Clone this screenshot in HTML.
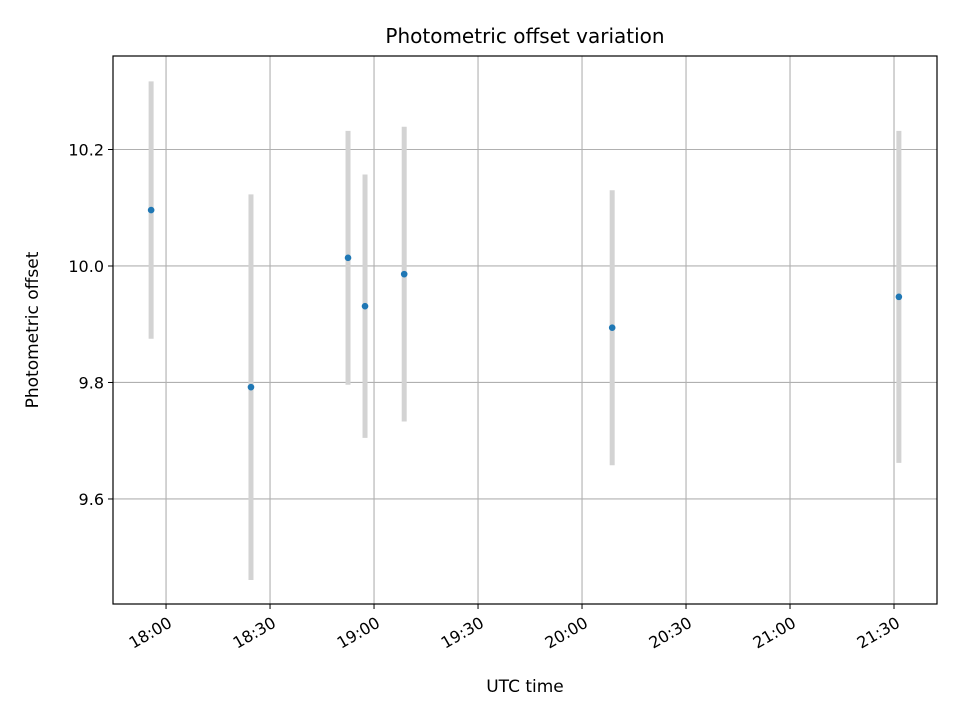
<!DOCTYPE html>
<html><head><meta charset="utf-8"><style>
body{margin:0;background:#fff;}
svg{font-family:"DejaVu Sans","Liberation Sans",sans-serif;}
</style></head><body>
<svg id="chart" width="960" height="720" viewBox="0 0 960 720" xmlns="http://www.w3.org/2000/svg">
<rect width="960" height="720" fill="#fff"/>
<g id="grid"></g>
<g id="errs"></g>
<g id="pts"></g>
<rect x="113" y="56" width="824" height="548" fill="none" stroke="#000" stroke-width="1.2"/>
<g id="xt"></g>
<g id="yt"></g>
<text x="525" y="43" text-anchor="middle" font-size="20">Photometric offset variation</text>
<text x="525" y="692" text-anchor="middle" font-size="17">UTC time</text>
<text transform="translate(38,330) rotate(-90)" text-anchor="middle" font-size="17">Photometric offset</text>
</svg>
<script>
// minutes since 18:00 UTC
const times = [-4.3, 24.5, 52.5, 57.4, 68.7, 128.7, 211.4];
const offsets = [10.096, 9.792, 10.014, 9.931, 9.986, 9.894, 9.947];
const errors = [0.221, 0.331, 0.218, 0.226, 0.253, 0.236, 0.285];
const xTickMinutes = [0, 30, 60, 90, 120, 150, 180, 210];
const xTickLabels = ["18:00","18:30","19:00","19:30","20:00","20:30","21:00","21:30"];
const yTicks = [9.6, 9.8, 10.0, 10.2];
const yTickLabels = ["9.6","9.8","10.0","10.2"];

const L=113,R=937,T=56,B=604;
const xMin=-15.3,xMax=222.4,yMin=9.4197,yMax=10.3605;
const xs=v=>L+(v-xMin)/(xMax-xMin)*(R-L);
const ys=v=>B-(v-yMin)/(yMax-yMin)*(B-T);
const NS="http://www.w3.org/2000/svg";
function mk(tag,attrs,parent){const e=document.createElementNS(NS,tag);for(const k in attrs)e.setAttribute(k,attrs[k]);parent.appendChild(e);return e;}
const grid=document.getElementById('grid'),xt=document.getElementById('xt'),yt=document.getElementById('yt');
const errs=document.getElementById('errs'),pts=document.getElementById('pts');
xTickMinutes.forEach((m,i)=>{
  const x=xs(m);
  const g=mk('line',{x1:x,x2:x,y1:T,y2:B,stroke:'#b0b0b0','stroke-width':1.1},grid);
  
  
  const t=mk('line',{x1:x,x2:x,y1:B,y2:B+5,stroke:'#000','stroke-width':1},xt);
  
  
  const l=mk('text',{x:0,y:0,'text-anchor':'end','font-size':16,transform:`translate(${x+7},${B+22}) rotate(-30)`},xt);
  l.textContent=xTickLabels[i];
  
  
});
yTicks.forEach((v,i)=>{
  const y=ys(v);
  const g=mk('line',{x1:L,x2:R,y1:y,y2:y,stroke:'#b0b0b0','stroke-width':1.1},grid);
  
  
  const t=mk('line',{x1:L-5,x2:L,y1:y,y2:y,stroke:'#000','stroke-width':1},yt);
  
  
  const l=mk('text',{x:L-9,y:y+6,'text-anchor':'end','font-size':16},yt);
  l.textContent=yTickLabels[i];
  
  
});
times.forEach((t,i)=>{
  const x=xs(t);
  const e=mk('line',{x1:x,x2:x,y1:ys(offsets[i]+errors[i]),y2:ys(offsets[i]-errors[i]),stroke:'#d3d3d3','stroke-width':5},errs);
  
  
  const c=mk('circle',{cx:x,cy:ys(offsets[i]),r:3.3,fill:'#1f77b4'},pts);
  
  
});
</script>
</body></html>
